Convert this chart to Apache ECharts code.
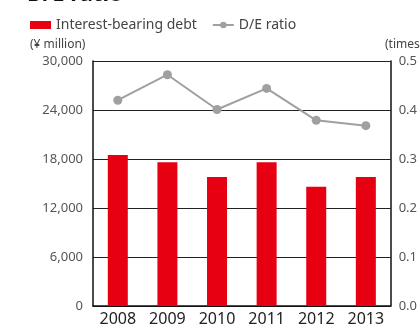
<!DOCTYPE html>
<html><head><meta charset="utf-8">
<script src="https://cdn.jsdelivr.net/npm/echarts@6/dist/echarts.min.js"></script>
<style>html,body{margin:0;padding:0;background:#fff}#c{width:420px;height:327px}</style>
</head><body><div id="c"></div>
<script>
const categories = ['2008','2009','2010','2011','2012','2013'];
const debtValues = [18500, 17600, 15800, 17600, 14600, 15800];
const deRatio = [0.42, 0.472, 0.401, 0.444, 0.379, 0.368];
const leftTicks = {min:0, max:30000, interval:6000};
const rightTicks = {min:0, max:0.5, interval:0.1};
const FONT = 'Noto Sans';
const chart = echarts.init(document.getElementById('c'));
chart.setOption({
  animation:false,
  textStyle:{fontFamily:FONT},
  grid:{left:93, right:29, top:61, bottom:21},
  graphic:[
    {type:'text', left:27, top:-16, style:{text:'D/E ratio', fontSize:22, fontWeight:'bold', fill:'#111', fontFamily:FONT}},
    {type:'text', left:30, top:39, style:{text:'(¥ million)', fontSize:12, fill:'#444', fontFamily:FONT}},
    {type:'text', left:385, top:39, style:{text:'(times)', fontSize:12, fill:'#444', fontFamily:FONT}}
  ],
  legend:{
    left:25, top:13, itemGap:15, itemWidth:21, itemHeight:8,
    textStyle:{fontSize:14, color:'#444', fontFamily:FONT},
    data:[{name:'Interest-bearing debt', icon:'rect', itemStyle:{color:'#e60012'}},
          {name:'D/E ratio'}]
  },
  xAxis:{type:'category', data:categories,
    axisLine:{lineStyle:{color:'#111', width:1.5}},
    axisTick:{show:false},
    axisLabel:{fontSize:16, color:'#222', margin:5, fontFamily:FONT}},
  yAxis:[
    {type:'value', min:leftTicks.min, max:leftTicks.max, interval:leftTicks.interval,
     axisLine:{show:true, lineStyle:{color:'#111', width:1.5}},
     axisTick:{show:false},
     splitLine:{lineStyle:{color:'#222', width:1}},
     axisLabel:{fontSize:13, color:'#555', margin:10, fontFamily:FONT,
       formatter:v=>v.toLocaleString('en-US')}},
    {type:'value', min:rightTicks.min, max:rightTicks.max, interval:rightTicks.interval,
     position:'right',
     axisLine:{show:true, lineStyle:{color:'#111', width:1.5}},
     axisTick:{show:false},
     splitLine:{show:false},
     axisLabel:{fontSize:13, color:'#555', margin:8, fontFamily:FONT,
       formatter:v=>v.toFixed(1)}}
  ],
  series:[
    {name:'Interest-bearing debt', type:'bar', data:debtValues, barWidth:20,
     itemStyle:{color:'#e60012'}},
    {name:'D/E ratio', type:'line', yAxisIndex:1, data:deRatio,
     symbol:'circle', symbolSize:9,
     lineStyle:{color:'#a0a0a0', width:2}, itemStyle:{color:'#a0a0a0'}}
  ]
});
</script></body></html>
